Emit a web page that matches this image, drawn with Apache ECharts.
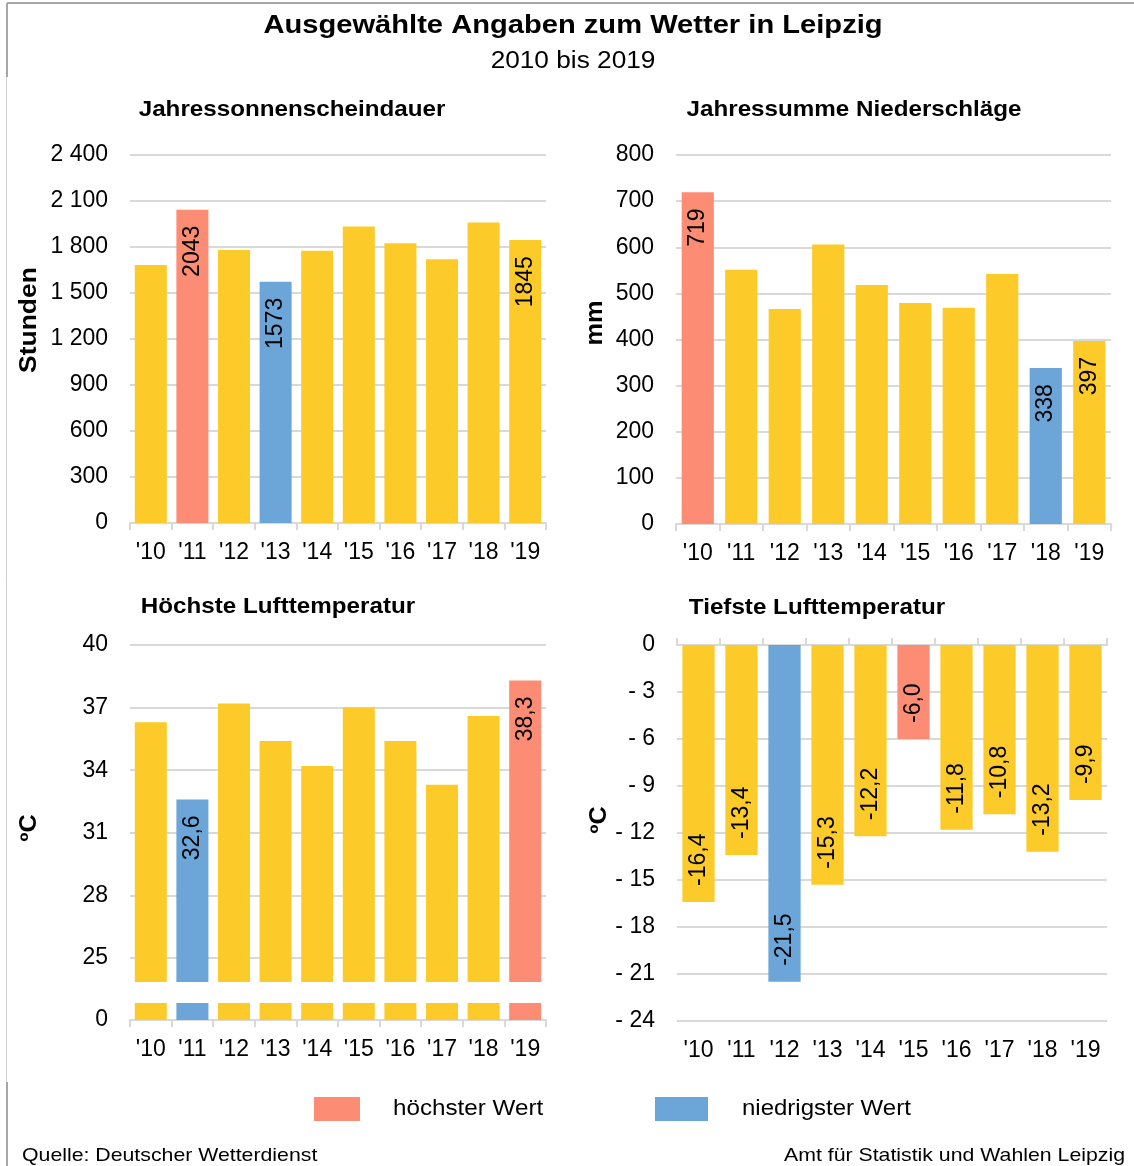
<!DOCTYPE html>
<html>
<head>
<meta charset="utf-8">
<script src="https://cdn.jsdelivr.net/npm/echarts@6/dist/echarts.min.js"></script>
<style>
  html, body { margin: 0; padding: 0; background: #fff; }
  #chart { width: 1134px; height: 1166px; }
</style>
</head>
<body>
<div id="chart"></div>
<script>
var years = ["'10", "'11", "'12", "'13", "'14", "'15", "'16", "'17", "'18", "'19"];
var sonnenschein = [1683, 2043, 1780, 1573, 1776, 1933, 1824, 1720, 1959, 1845];
var niederschlag = [719, 551, 466, 606, 518, 479, 469, 542, 338, 397];
var hoechsteTemp = [36.3, 32.6, 37.2, 35.4, 34.2, 37.0, 35.4, 33.3, 36.6, 38.3];
var tiefsteTemp = [-16.4, -13.4, -21.5, -15.3, -12.2, -6.0, -11.8, -10.8, -13.2, -9.9];
var hoechstTicks = [25, 28, 31, 34, 37, 40];

var FONT = 'Liberation Sans, Arial, sans-serif';
var YELLOW = '#FDCB29';
var RED = '#FD8C74';
var BLUE = '#6CA6D8';
var GRID = '#D9D9D9';

// Balken einfärben: höchster Wert rot, niedrigster blau
function barData(values, labelAll) {
  var max = Math.max.apply(null, values);
  var min = Math.min.apply(null, values);
  return values.map(function (v, i) {
    var c = v === max ? RED : (v === min ? BLUE : YELLOW);
    var show = labelAll || v === max || v === min || i === values.length - 1;
    return { value: v, itemStyle: { color: c }, label: { show: show } };
  });
}

function comma(v) { return v.toFixed(1).replace('.', ','); }

var tickText = { fontFamily: FONT, fontSize: 23, color: '#000' };

function catAxis(gridIndex, extra) {
  return Object.assign({
    type: 'category', gridIndex: gridIndex, data: years,
    axisLine: { lineStyle: { color: GRID, width: 2 } },
    axisTick: { show: true, alignWithLabel: false, length: 7, lineStyle: { color: GRID, width: 2 } },
    axisLabel: Object.assign({ margin: 18 }, tickText)
  }, extra || {});
}

function valAxis(gridIndex, extra) {
  return Object.assign({
    type: 'value', gridIndex: gridIndex,
    axisLine: { show: false }, axisTick: { show: false },
    splitLine: { lineStyle: { color: GRID, width: 2 } },
    axisLabel: Object.assign({ margin: 22 }, tickText)
  }, extra || {});
}

var labelTop = {
  position: 'insideTop', rotate: 90, distance: 16,
  align: 'right', verticalAlign: 'middle',
  fontFamily: FONT, fontSize: 23, color: '#000'
};

// Text mit leichter horizontaler Streckung wie im Original
function txt(x, y, text, font, extra) {
  return Object.assign({
    type: 'text', x: x, y: y, scaleX: 1.1,
    style: { text: text, font: font, fill: '#000', align: 'center', verticalAlign: 'middle' }
  }, extra || {});
}

var chart = echarts.init(document.getElementById('chart'));
chart.setOption({
  animation: false,
  backgroundColor: '#fff',
  grid: [
    { left: 130, top: 155, width: 416, height: 368 },
    { left: 676, top: 155, width: 435, height: 369 },
    { left: 130, top: 645, width: 416, height: 337 },
    { left: 130, top: 1003, width: 416, height: 17 },
    { left: 677, top: 645, width: 430, height: 376 }
  ],
  xAxis: [
    catAxis(0),
    catAxis(1),
    catAxis(2, { show: false }),
    catAxis(3),
    catAxis(4, { position: 'top', axisLabel: { show: false } }),
    catAxis(4, { position: 'bottom', axisLine: { show: false }, axisTick: { show: false } })
  ],
  yAxis: [
    valAxis(0, { min: 0, max: 2400, interval: 300,
      axisLabel: Object.assign({ margin: 22, formatter: function (v) {
        return String(v).replace(/\B(?=(\d{3})+(?!\d))/g, ' ');
      } }, tickText) }),
    valAxis(1, { min: 0, max: 800, interval: 100 }),
    valAxis(2, { min: 23.85, max: 40,
      axisTick: { show: false, customValues: hoechstTicks },
      axisLabel: Object.assign({ margin: 22, customValues: hoechstTicks }, tickText) }),
    valAxis(3, { min: 0, max: 1, splitLine: { show: false },
      axisTick: { show: false, customValues: [0] },
      axisLabel: Object.assign({ margin: 22, customValues: [0] }, tickText) }),
    valAxis(4, { min: -24, max: 0, interval: 3,
      axisLabel: Object.assign({ margin: 22, formatter: function (v) {
        return v < 0 ? '- ' + Math.abs(v) : String(v);
      } }, tickText) })
  ],
  series: [
    { type: 'bar', xAxisIndex: 0, yAxisIndex: 0, barCategoryGap: '23%',
      data: barData(sonnenschein, false), label: labelTop },
    { type: 'bar', xAxisIndex: 1, yAxisIndex: 1, barCategoryGap: '26%',
      data: barData(niederschlag, false), label: labelTop },
    { type: 'bar', xAxisIndex: 2, yAxisIndex: 2, barCategoryGap: '23%',
      data: barData(hoechsteTemp, false),
      label: Object.assign({}, labelTop, { formatter: function (p) { return comma(p.value); } }) },
    { type: 'bar', xAxisIndex: 3, yAxisIndex: 3, barCategoryGap: '23%', clip: true,
      data: barData(hoechsteTemp, false).map(function (d) { d.label.show = false; return d; }) },
    { type: 'bar', xAxisIndex: 4, yAxisIndex: 4, barCategoryGap: '25%',
      data: barData(tiefsteTemp, true),
      label: Object.assign({}, labelTop, { position: 'insideBottom', align: 'left',
        formatter: function (p) { return comma(p.value); } }) }
  ],
  graphic: [
    // Rahmen
    { type: 'line', shape: { x1: 7, y1: 3, x2: 1134, y2: 3 }, style: { stroke: '#A6A6A6', lineWidth: 2 } },
    { type: 'line', shape: { x1: 7, y1: 3, x2: 7, y2: 77 }, style: { stroke: '#A6A6A6', lineWidth: 2 } },
    { type: 'line', shape: { x1: 6.5, y1: 77, x2: 6.5, y2: 1082 }, style: { stroke: '#D0D0D0', lineWidth: 1 } },
    { type: 'line', shape: { x1: 7, y1: 1082, x2: 7, y2: 1166 }, style: { stroke: '#A6A6A6', lineWidth: 2 } },
    // Titel
    txt(573, 26, 'Ausgewählte Angaben zum Wetter in Leipzig', 'bold 26px ' + FONT, { scaleX: 1.12 }),
    txt(573, 62, '2010 bis 2019', '23px ' + FONT, { scaleX: 1.14 }),
    // Teilüberschriften
    txt(292, 110, 'Jahressonnenscheindauer', 'bold 22px ' + FONT),
    txt(854, 110, 'Jahressumme Niederschläge', 'bold 22px ' + FONT),
    txt(278, 607, 'Höchste Lufttemperatur', 'bold 22px ' + FONT),
    txt(817, 608, 'Tiefste Lufttemperatur', 'bold 22px ' + FONT),
    // Achsentitel
    txt(30, 320, 'Stunden', 'bold 23px ' + FONT, { rotation: Math.PI / 2, scaleX: 1.15 }),
    txt(596, 323, 'mm', 'bold 23px ' + FONT, { rotation: Math.PI / 2, scaleX: 1.1 }),
    txt(30, 828, 'ºC', 'bold 23px ' + FONT, { rotation: Math.PI / 2 }),
    txt(600, 820, 'ºC', 'bold 23px ' + FONT, { rotation: Math.PI / 2 }),
    // Legende
    { type: 'rect', shape: { x: 314, y: 1097, width: 46, height: 24 }, style: { fill: RED } },
    { type: 'text', x: 393, y: 1109, scaleX: 1.1, style: { text: 'höchster Wert', font: '22px ' + FONT, fill: '#000', verticalAlign: 'middle' } },
    { type: 'rect', shape: { x: 655, y: 1097, width: 53, height: 24 }, style: { fill: BLUE } },
    { type: 'text', x: 742, y: 1109, scaleX: 1.09, style: { text: 'niedrigster Wert', font: '22px ' + FONT, fill: '#000', verticalAlign: 'middle' } },
    // Fußzeile
    { type: 'text', x: 22, y: 1156, scaleX: 1.12, style: { text: 'Quelle: Deutscher Wetterdienst', font: '19px ' + FONT, fill: '#000', verticalAlign: 'middle' } },
    { type: 'text', x: 1125, y: 1156, scaleX: 1.12, style: { text: 'Amt für Statistik und Wahlen Leipzig', font: '19px ' + FONT, fill: '#000', align: 'right', verticalAlign: 'middle' } }
  ]
});
</script>
</body>
</html>
